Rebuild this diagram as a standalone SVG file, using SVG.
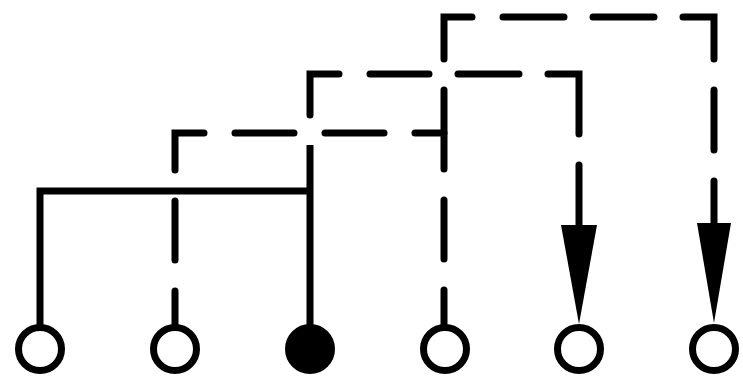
<svg xmlns="http://www.w3.org/2000/svg" width="743" height="377" viewBox="0 0 743 377">
<style>
.node{fill:#fff;stroke:#000;stroke-width:7}
.node.filled{fill:#000}
.solid{fill:none;stroke:#000;stroke-width:7;stroke-linejoin:miter}
.dash{fill:none;stroke:#000;stroke-width:7;stroke-linecap:round;stroke-linejoin:miter}
.head{fill:#000;stroke:none}
</style>
<rect width="743" height="377" fill="#fff"/>
<g id="connectors">
  <path class="solid" d="M40,326 V191 H310 M310,145 V326"/>
  <path class="dash" d="M175,326 V291 M175,260 V201 M175,170 V133 H204 M235,133 H294 M325,133 H384 M415,133 H444"/>
  <path class="dash" d="M310,115 V74 H339 M370,74 H429 M458,74 H519 M548,74 H579 V134 M579,165 V227"/>
  <polygon class="head" points="561,225 597,225 579,324"/>
  <path class="dash" d="M444,326 V290 M444,259 V200 M444,169 V90 M444,59 V17 H472 M503,17 H564 M593,17 H654 M683,17 H714 V59 M714,90 V150 M714,181 V225"/>
  <polygon class="head" points="697,223 731,223 714,323"/>
</g>
<g id="n1"><circle class="node" cx="40" cy="349" r="21.5"/></g>
<g id="n2"><circle class="node" cx="175" cy="349" r="21.5"/></g>
<g id="n3"><circle class="node filled" cx="310" cy="349" r="21.5"/></g>
<g id="n4"><circle class="node" cx="445" cy="349" r="21.5"/></g>
<g id="n5"><circle class="node" cx="579" cy="349" r="21.5"/></g>
<g id="n6"><circle class="node" cx="714" cy="349" r="21.5"/></g>
</svg>
